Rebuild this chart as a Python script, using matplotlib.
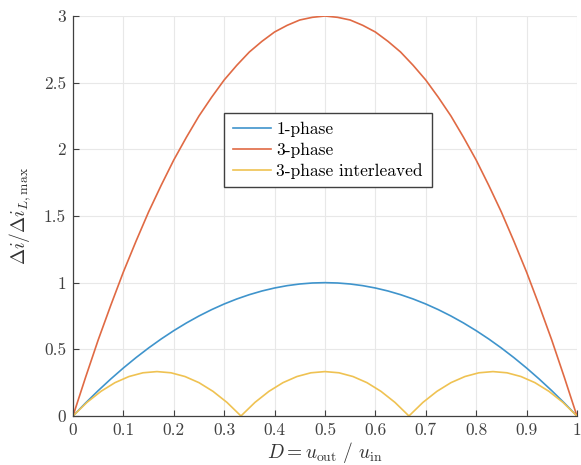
import numpy as np
import matplotlib
matplotlib.use('Agg')
import matplotlib.pyplot as plt
from matplotlib.ticker import FuncFormatter

plt.rcParams['font.family'] = 'cmr10'
plt.rcParams['mathtext.fontset'] = 'cm'
plt.rcParams['axes.formatter.use_mathtext'] = True

# duty cycle samples
d_phase = np.linspace(0, 1, 41)
d_inter = np.linspace(0, 1, 37)

# normalised ripple
one_phase = [0, 0.0975, 0.19, 0.2775, 0.36, 0.4375, 0.51, 0.5775, 0.64, 0.6975,
             0.75, 0.7975, 0.84, 0.8775, 0.91, 0.9375, 0.96, 0.9775, 0.99, 0.9975,
             1.0,
             0.9975, 0.99, 0.9775, 0.96, 0.9375, 0.91, 0.8775, 0.84, 0.7975, 0.75,
             0.6975, 0.64, 0.5775, 0.51, 0.4375, 0.36, 0.2775, 0.19, 0.0975, 0]
three_phase = [0, 0.29, 0.57, 0.83, 1.08, 1.31, 1.53, 1.73, 1.92, 2.09,
               2.25, 2.39, 2.52, 2.63, 2.73, 2.81, 2.88, 2.93, 2.97, 2.99,
               3.0,
               2.99, 2.97, 2.93, 2.88, 2.81, 2.73, 2.63, 2.52, 2.39, 2.25,
               2.09, 1.92, 1.73, 1.53, 1.31, 1.08, 0.83, 0.57, 0.29, 0]
interleaved = [0, 0.102, 0.185, 0.25, 0.296, 0.324, 0.333, 0.324, 0.296, 0.25, 0.185, 0.102,
               0, 0.102, 0.185, 0.25, 0.296, 0.324, 0.333, 0.324, 0.296, 0.25, 0.185, 0.102,
               0, 0.102, 0.185, 0.25, 0.296, 0.324, 0.333, 0.324, 0.296, 0.25, 0.185, 0.102,
               0]

fig = plt.figure(figsize=(5.81, 4.65), dpi=100)
ax = fig.add_axes([0.1256, 0.1054, 0.8674, 0.8602])

ax.plot(d_phase, one_phase, color='#3f94cc', lw=1.2, label='1-phase')
ax.plot(d_phase, three_phase, color='#e06a44', lw=1.2, label='3-phase')
ax.plot(d_inter, interleaved, color='#efc252', lw=1.2, label='3-phase interleaved')

ax.set_xlim(0, 1)
ax.set_ylim(0, 3)
ax.set_xticks(np.arange(0, 1.01, 0.1))
ax.set_yticks(np.arange(0, 3.01, 0.5))
fmt = FuncFormatter(lambda v, p: '%g' % round(v, 2))
ax.xaxis.set_major_formatter(fmt)
ax.yaxis.set_major_formatter(fmt)
ax.tick_params(direction='in', length=4, width=0.8, colors='#404040',
               labelsize=12.5, pad=5)
ax.grid(True, color='#e8e8e8', lw=0.8)
ax.set_axisbelow(True)
for s in ['top', 'right']:
    ax.spines[s].set_visible(False)
for s in ['left', 'bottom']:
    ax.spines[s].set_color('#404040')
    ax.spines[s].set_linewidth(0.9)

ax.set_xlabel(r'$D = u_{\rm out}\ /\ u_{\rm in}$', fontsize=14, color='#333333', labelpad=1)
ax.set_ylabel(r'$\Delta i/\Delta i_{L,\max}$', fontsize=14, color='#333333', labelpad=8)

leg = ax.legend(loc='upper left', bbox_to_anchor=(0.283, 0.779), fontsize=12.5,
                fancybox=False, framealpha=1, edgecolor='#404040',
                handlelength=2.2, borderpad=0.5, labelspacing=0.3, handletextpad=0.3)
leg.get_frame().set_linewidth(1.0)

fig.savefig('out.png', dpi=100)
